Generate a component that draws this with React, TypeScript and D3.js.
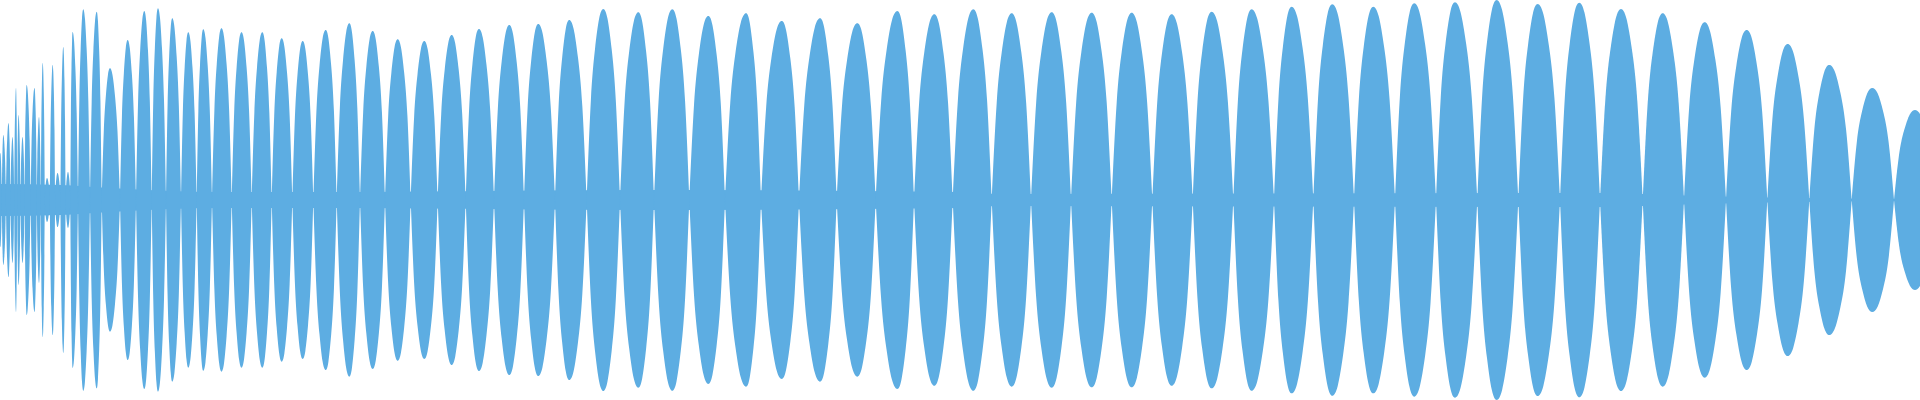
import React from "react";
import * as d3 from "d3";

// Zero-crossing (node) positions of the waveform, in sample units (0..1920)
const nodeX = [
  -2, 1.8, 5.9, 10.5, 14.2, 17.2, 20.5, 24.6, 30.6, 36.8, 40.8, 44.8, 49.8, 55.1, 60.4, 65.6, 70.3, 78, 90,
  101.7, 120, 136, 151.7, 166, 181, 196.7, 212, 231.7, 251.7, 271.7, 292.3, 313.3, 336.7, 360, 385, 410.7,
  437.7, 465.7, 494, 524, 555, 586.7, 620, 654, 689.3, 725, 761, 799, 836.7, 875.7, 914, 952.7, 991.7, 1031,
  1071, 1111.7, 1152.3, 1192.7, 1233.3, 1274, 1313.3, 1354, 1395, 1436, 1477.3, 1518.3, 1560, 1600, 1642.7,
  1684, 1726, 1767.3, 1809.3, 1851.7, 1894, 1936,
];

// Peak position of each lobe (between consecutive nodes)
const peakX = [
  0.3, 3.3, 8.5, 12.5, 16, 18.5, 22.5, 26.7, 34.5, 39, 42.7, 47, 52.7, 57.5, 63.3, 68, 72.7, 83.3, 96.7,
  110, 127.7, 144.3, 158, 172.3, 188.3, 203.3, 221.5, 241.5, 262.3, 281.7, 302.7, 325.7, 349.3, 372.7, 397.7,
  424.3, 451.7, 479, 509.3, 538.3, 569.3, 603.3, 638.3, 672.3, 708.3, 746, 781.7, 820, 857.3, 897.3, 934.3,
  973.3, 1011.7, 1051.7, 1091.7, 1131.7, 1171.7, 1211.7, 1251.7, 1291.7, 1332.3, 1373.3, 1414.3, 1455, 1496.7,
  1537.7, 1579.3, 1621, 1662.7, 1704.7, 1746.7, 1787.7, 1829.3, 1872.3, 1915,
];

// Peak amplitude of each lobe
const peakAmp = [
  47, 65, 77, 63, 112, 85, 63, 115, 112, 83, 137, 22, 135, 27, 153, 28, 168, 190.7, 188.3,
  131.7, 160, 189, 191.7, 181.7, 167.7, 170.7, 171.7, 167.7, 167.7, 161.7, 159, 170, 176.7, 169, 160.7,
  159, 165, 171, 175, 176, 180, 191, 187.7, 190.7, 184, 186.7, 179, 181.7, 176.7, 189, 185.7,
  190.7, 186.7, 187.7, 187.3, 187.3, 185.7, 188.3, 190.7, 193.3, 195.7, 193.3, 196.7, 197.7, 200,
  196, 197.3, 191, 186.7, 177.7, 170, 156, 135, 112, 90,
];

// Residual amplitude at the nodes (the thin waist of the waveform)
const waistX = [0, 60, 110, 220, 330, 640, 960, 1000, 1600, 1700, 1800, 1920];
const waistAmp = [16, 15, 12, 8, 8, 10, 8, 6, 7, 4, 2, 1];

// Measured lobe profile: share of the way from node to peak -> share of peak amplitude
const profileU = [0, 0.25, 0.5, 0.75, 1];
const profileA = [0, 0.52, 0.79, 0.95, 1];

const WIDTH = 1920;
const HEIGHT = 400;
const COLOR = "#5DADE2";

export default function App() {
  const x = d3.scaleLinear().domain([0, 1920]).range([0, WIDTH]);
  const y = d3.scaleLinear().domain([-200, 200]).range([HEIGHT, 0]);

  type P = { x: number; a: number };
  const lobeArea = d3
    .area<P>()
    .x((d) => x(d.x))
    .y0((d) => y(-d.a))
    .y1((d) => y(d.a))
    .curve(d3.curveNatural);

  const waistArea = d3
    .area<P>()
    .x((d) => x(d.x))
    .y0((d) => y(-d.a))
    .y1((d) => y(d.a))
    .curve(d3.curveMonotoneX);

  const lobes = peakX.map((px, i) => {
    const x0 = nodeX[i];
    const x1 = nodeX[i + 1];
    const a = peakAmp[i];
    const rise: P[] = profileU.map((u, k) => ({ x: x0 + (px - x0) * u, a: a * profileA[k] }));
    const fall: P[] = profileU
      .slice(0, -1)
      .map((u, k) => ({ x: x1 - (x1 - px) * u, a: a * profileA[k] }))
      .reverse();
    return lobeArea(rise.concat(fall)) || "";
  });

  const waist = waistArea(waistX.map((wx, i) => ({ x: wx, a: waistAmp[i] }))) || "";

  return (
    <svg
      width={WIDTH}
      height={HEIGHT}
      style={{ position: "absolute", left: 0, top: 0, display: "block" }}
    >
      <path d={waist} fill={COLOR} />
      {lobes.map((d, i) => (
        <path key={i} d={d} fill={COLOR} />
      ))}
    </svg>
  );
}
